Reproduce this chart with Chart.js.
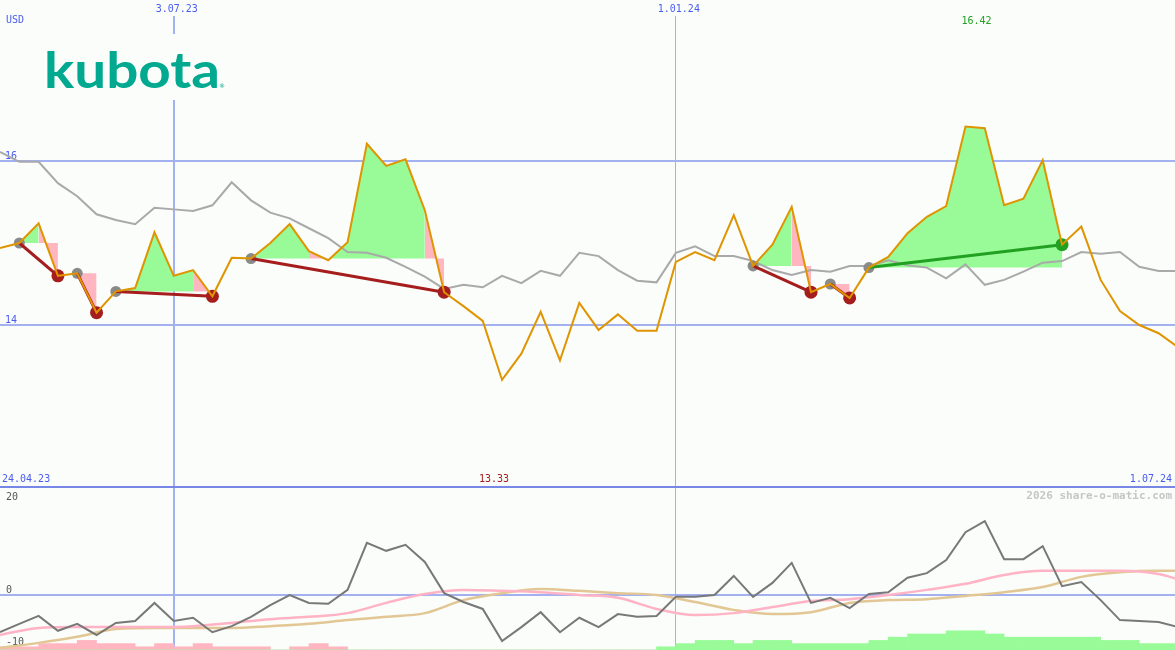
<!DOCTYPE html>
<html>
<head>
<meta charset="utf-8">
<title>Kubota</title>
<script src="https://cdn.jsdelivr.net/npm/chart.js@4.4.1/dist/chart.umd.min.js"></script>
<style>
    html, body { margin: 0; padding: 0; background: #fafdfa; }
    #wrap { position: relative; width: 1175px; height: 650px; overflow: hidden; }
    canvas { position: absolute; left: 0; }
    #kurs { top: 0; }
    #osz { top: 486px; }
</style>
</head>
<body>
<div id="wrap">
    <canvas id="kurs" width="1175" height="486"></canvas>
    <canvas id="osz" width="1175" height="164"></canvas>
</div>
<script>
// Wochenschlusskurse in USD (Woche 0 = 24.04.23)
const closes = [14.94, 15.00, 15.24, 14.60, 14.63, 14.15, 14.41, 14.45, 15.13, 14.60,
                14.67, 14.35, 14.82, 14.81, 15.00, 15.23, 14.90, 14.79, 15.01, 16.21,
                15.94, 16.02, 15.40, 14.40, 14.23, 14.05, 13.33, 13.65, 14.16, 13.57,
                14.27, 13.94, 14.13, 13.93, 13.93, 14.77, 14.89, 14.79, 15.34, 14.72,
                14.98, 15.44, 14.40, 14.50, 14.33, 14.70, 14.83, 15.12, 15.32, 15.45,
                16.42, 16.40, 15.46, 15.54, 16.01, 14.98, 15.20, 14.55, 14.17, 14.00,
                13.90, 13.73];

// gleitender Durchschnitt (graue Linie)
const average = [16.11, 15.99, 15.99, 15.73, 15.57, 15.35, 15.28, 15.23, 15.43, 15.41,
                 15.39, 15.46, 15.74, 15.52, 15.37, 15.30, 15.18, 15.06, 14.89, 14.88,
                 14.82, 14.71, 14.59, 14.44, 14.49, 14.46, 14.60, 14.51, 14.66, 14.60,
                 14.88, 14.84, 14.67, 14.54, 14.52, 14.88, 14.96, 14.84, 14.84, 14.78,
                 14.67, 14.61, 14.67, 14.65, 14.72, 14.72, 14.79, 14.73, 14.70, 14.57,
                 14.74, 14.49, 14.55, 14.65, 14.76, 14.78, 14.89, 14.87, 14.89, 14.71,
                 14.66, 14.66];

// Unteres Feld: Momentum je Woche
const momentum = [-8.0, -6.2, -4.5, -7.7, -6.2, -8.6, -6.0, -5.6, -1.7, -5.6,
                  -4.9, -8.0, -6.7, -4.7, -2.2, 0.0, -1.7, -1.9, 1.1, 11.2,
                  9.5, 10.8, 7.1, 0.4, -1.5, -3.0, -9.9, -6.9, -3.7, -8.0,
                  -4.9, -6.9, -4.1, -4.7, -4.5, -0.4, -0.4, 0.0, 4.1, -0.4,
                  2.6, 6.9, -1.7, -0.6, -2.8, 0.2, 0.6, 3.7, 4.7, 7.5,
                  13.5, 15.9, 7.7, 7.7, 10.5, 1.9, 2.8, -1.1, -5.4, -5.6,
                  -5.8, -6.9];

const smoothWeeks = [0, 2, 4, 6, 8, 10, 12, 14, 16, 18, 20, 22, 24, 26, 28, 30,
                     32, 34, 36, 38, 40, 42, 44, 46, 48, 50, 52, 54, 56, 58, 60, 61];
const signalLine = [-8.6, -7.1, -6.9, -6.9, -6.9, -6.7, -6.0, -5.2, -4.7, -3.9, -1.7, 0.2, 1.1, 0.9, 0.6, 0.0,
                    -0.6, -3.0, -4.3, -3.9, -2.6, -1.3, -0.9, 0.0, 1.1, 2.4, 4.3, 5.2, 5.2, 5.2, 4.5, 3.4];
const trendLine = [-11.4, -10.3, -9.0, -7.3, -7.1, -7.1, -7.1, -6.7, -6.2, -5.4, -4.7, -3.9, -1.1, 0.4, 1.3, 0.9,
                   0.4, 0.0, -1.5, -3.2, -4.1, -3.7, -1.7, -1.1, -0.9, -0.2, 0.6, 1.7, 3.9, 4.9, 5.2, 5.2];

// Balken am unteren Rand (negativ = rosa, positiv = grün), je Woche
const histogram = [-1, -1, -2, -2, -3, -2, -2, -1, -2, -1, -2, -1, -1, -1, 0, -1, -2, -1,
                   0, 0, 0, 0, 0, 0, 0, 0, 0, 0, 0, 0, 0, 0, 0, 0,
                   1, 2, 3, 3, 2, 3, 3, 2, 2, 2, 2, 3, 4, 5, 5, 6, 6, 5, 4, 4, 4, 4, 4, 3, 3, 2, 2];

// Signale: Einstieg / Ausstieg (Wochenindex)
const entryWeeks = [1, 4, 6, 13, 39, 43, 45];
const exitWeeks = [3, 5, 11, 23, 42, 44, 55];

const priceTicks = [14, 16];
const oscTicks = [20, 0, -10];
const gridWeeks = [9, 35];
const gridLabels = ['3.07.23', '1.01.24'];
const firstDate = '24.04.23';
const lastDate = '1.07.24';

const C = {
    bg: '#fafdfa',
    grid: '#a3b1f1',
    sep: '#7886e6',
    text: '#4a5cf0',
    close: '#df9400',
    avg: '#a9a9a9',
    up: '#98fb98',
    down: '#ffb6c1',
    loss: '#a51d1d',
    gain: '#22a022',
    entry: '#8a8a8a',
    osc: '#787878',
    signal: '#ffb3c4',
    trend: '#e2c794',
    logo: '#00a98f'
};
const MONO = '"DejaVu Sans Mono", monospace';

const pts = (arr, xs) => arr.map((v, i) => ({ x: xs ? xs[i] : i, y: v }));

function drawLogo(ctx) {
    ctx.save();
    ctx.fillStyle = C.bg;
    ctx.fillRect(30, 34, 206, 66);
    ctx.fillStyle = C.logo;
    ctx.font = '700 50px Lato';
    ctx.textBaseline = 'alphabetic';
    ctx.textAlign = 'left';
    const w = ctx.measureText('kubota').width;
    ctx.translate(44, 88);
    ctx.scale(176 / w, 1);
    ctx.fillText('kubota', 0, 0);
    ctx.restore();
    ctx.save();
    ctx.fillStyle = C.logo;
    ctx.font = '6px "DejaVu Sans"';
    ctx.fillText('®', 219, 88);
    ctx.restore();
}

const kursDecor = {
    id: 'kursDecor',
    beforeDatasetsDraw(chart) {
        const { ctx, width, height } = chart;
        const { x, y } = chart.scales;
        ctx.save();
        ctx.fillStyle = C.grid;
        priceTicks.forEach(t => {
            const py = Math.round(y.getPixelForValue(t));
            ctx.fillRect(0, py - 1, width, 2);
        });
        gridWeeks.forEach((w, i) => {
            const px = Math.round(x.getPixelForValue(w));
            ctx.fillRect(px - 1, 16, i === 0 ? 2 : 1, height - 16);
        });
        drawLogo(ctx);

        ctx.font = '10px ' + MONO;
        ctx.textBaseline = 'middle';
        ctx.fillStyle = C.text;
        ctx.textAlign = 'left';
        ctx.fillText('USD', 6, 20);
        priceTicks.forEach(t => ctx.fillText(String(t), 5, y.getPixelForValue(t) - 5));
        ctx.fillText(firstDate, 2, height - 7);
        ctx.textAlign = 'right';
        ctx.fillText(lastDate, 1172, height - 7);
        ctx.textAlign = 'center';
        gridWeeks.forEach((w, i) => ctx.fillText(gridLabels[i], x.getPixelForValue(w) + 3, 9));

        const hi = Math.max(...closes), lo = Math.min(...closes);
        ctx.fillStyle = C.gain;
        ctx.fillText(hi.toFixed(2), x.getPixelForValue(closes.indexOf(hi)) + 11, 21);
        ctx.fillStyle = C.loss;
        ctx.fillText(lo.toFixed(2), x.getPixelForValue(closes.indexOf(lo)) - 8, height - 7);
        ctx.restore();
    }
};

const oszDecor = {
    id: 'oszDecor',
    beforeDatasetsDraw(chart) {
        const { ctx, width, height } = chart;
        const { x, y } = chart.scales;
        ctx.save();
        ctx.fillStyle = C.grid;
        ctx.fillRect(0, Math.round(y.getPixelForValue(0)) - 1, width, 2);
        gridWeeks.forEach((w, i) => {
            const px = Math.round(x.getPixelForValue(w));
            ctx.fillRect(px - 1, 0, i === 0 ? 2 : 1, height);
        });
        ctx.fillStyle = C.sep;
        ctx.fillRect(0, 0, width, 2);

        ctx.font = '10px ' + MONO;
        ctx.textBaseline = 'middle';
        ctx.textAlign = 'left';
        ctx.fillStyle = '#555555';
        oscTicks.forEach(t => {
            const py = y.getPixelForValue(t);
            ctx.fillText(String(t), 6, t < 0 ? py + 1 : py - 5);
        });
        ctx.font = 'bold 11px ' + MONO;
        ctx.textAlign = 'right';
        ctx.fillStyle = '#c6c6c6';
        ctx.fillText('2026 share-o-matic.com', 1172, 10);
        ctx.restore();
    }
};

const baseOptions = {
    responsive: false,
    animation: false,
    devicePixelRatio: 1,
    events: [],
    layout: { padding: 0, autoPadding: false },
    plugins: { legend: { display: false }, tooltip: { enabled: false } },
    elements: { point: { radius: 0 }, line: { tension: 0 } }
};

// Kursfeld
const kursSets = [
    { data: pts(closes), borderColor: C.close, borderWidth: 2, order: 1 },
    { data: pts(average), borderColor: C.avg, borderWidth: 2, order: 5 }
];

entryWeeks.forEach((e, t) => {
    const s = exitWeeks[t];
    const base = closes[e];
    const part = closes.slice(e, s + 1);
    kursSets.push({
        data: pts(part, part.map((_, i) => e + i)),
        borderColor: 'transparent',
        borderWidth: 0,
        backgroundColor: C.up,
        fill: { value: base },
        segment: {
            backgroundColor: c => closes[e + c.p1DataIndex] < base ? C.down : C.up
        },
        order: 6
    });
    kursSets.push({
        data: [{ x: e, y: base }, { x: s, y: closes[s] }],
        borderColor: closes[s] > base ? C.gain : C.loss,
        borderWidth: 3,
        order: 3
    });
});

kursSets.push({
    data: entryWeeks.map(w => ({ x: w, y: closes[w] })),
    showLine: false,
    pointRadius: 5.5,
    pointBorderWidth: 0,
    pointBackgroundColor: C.entry,
    order: 4
});
kursSets.push({
    data: exitWeeks.map(w => ({ x: w, y: closes[w] })),
    showLine: false,
    pointRadius: 6.5,
    pointBorderWidth: 0,
    pointBackgroundColor: exitWeeks.map((w, t) => closes[w] > closes[entryWeeks[t]] ? C.gain : C.loss),
    order: 2
});

new Chart(document.getElementById('kurs'), {
    type: 'line',
    data: { datasets: kursSets },
    options: {
        ...baseOptions,
        scales: {
            x: { type: 'linear', display: false, min: 0, max: 60.85 },
            y: { type: 'linear', display: false, min: 12.037, max: 17.963 }
        }
    },
    plugins: [kursDecor]
});

// Oszillatorfeld
const barX = histogram.map((_, i) => i + 0.5);
new Chart(document.getElementById('osz'), {
    type: 'line',
    data: {
        datasets: [
            { type: 'bar', data: pts(histogram.map(v => v < 0 ? -v : 0), barX), backgroundColor: C.down,
              yAxisID: 'yh', grouped: false, barPercentage: 1, categoryPercentage: 1, order: 6 },
            { type: 'bar', data: pts(histogram.map(v => v > 0 ? v : 0), barX), backgroundColor: C.up,
              yAxisID: 'yh', grouped: false, barPercentage: 1, categoryPercentage: 1, order: 5 },
            { data: pts(trendLine, smoothWeeks), borderColor: C.trend, borderWidth: 2.5,
              cubicInterpolationMode: 'monotone', order: 3 },
            { data: pts(signalLine, smoothWeeks), borderColor: C.signal, borderWidth: 2.5,
              cubicInterpolationMode: 'monotone', order: 2 },
            { data: pts(momentum), borderColor: C.osc, borderWidth: 2, order: 1 }
        ]
    },
    options: {
        ...baseOptions,
        scales: {
            x: { type: 'linear', display: false, min: 0, max: 60.85, offset: false },
            y: { type: 'linear', display: false, min: -11.83, max: 23.44 },
            yh: { type: 'linear', display: false, min: 0, max: 51.25 }
        }
    },
    plugins: [oszDecor]
});
</script>
</body>
</html>
